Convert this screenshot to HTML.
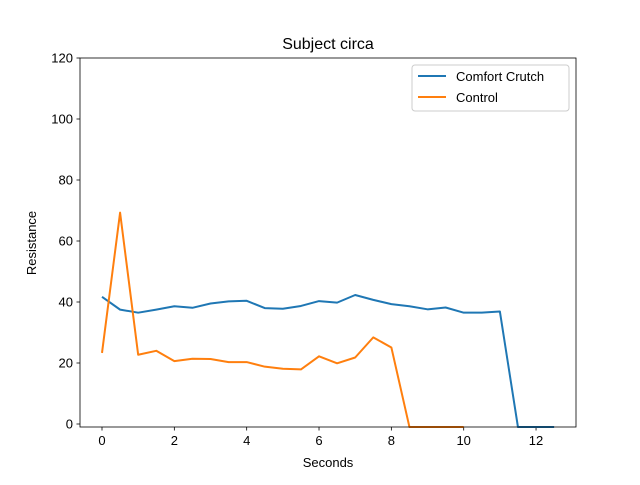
<!DOCTYPE html>
<html><head><meta charset="utf-8">
<style>body{margin:0;background:#fff}svg{font-family:"Liberation Sans","DejaVu Sans",sans-serif}</style>
</head><body>
<svg id="chart" width="640" height="480">
<rect width="640" height="480" fill="#fff"/>
<text x="328" y="49" font-size="16" text-anchor="middle">Subject circa</text>
<g id="axes"></g>
<g id="lines"></g>
<rect x="80" y="58" width="496" height="369" fill="none" stroke="#000" stroke-width="0.8"/>
<text x="328" y="467" font-size="13" text-anchor="middle">Seconds</text>
<text x="36" y="243" font-size="13" text-anchor="middle" transform="rotate(-90 36 243)">Resistance</text>
<g>
<rect x="412" y="65" width="157" height="46" fill="#fff" stroke="#ccc" rx="3"/>
<line x1="418" y1="76" x2="446" y2="76" stroke="#1f77b4" stroke-width="2"/>
<text x="456" y="81" font-size="13">Comfort Crutch</text>
<line x1="418" y1="97" x2="446" y2="97" stroke="#ff7f0e" stroke-width="2"/>
<text x="456" y="102" font-size="13">Control</text>
</g>
</svg>
<script>
const xValues=[0,0.5,1,1.5,2,2.5,3,3.5,4,4.5,5,5.5,6,6.5,7,7.5,8,8.5,9,9.5,10,10.5,11,11.5,12,12.5];
const comfortValues=[41.7,37.5,36.5,37.5,38.6,38.1,39.5,40.2,40.4,38,37.8,38.7,40.3,39.8,42.3,40.7,39.3,38.6,37.6,38.2,36.5,36.5,36.9,-1,-1,-1];
const controlValues=[23.3,69.3,22.7,24,20.6,21.4,21.3,20.3,20.3,18.8,18.1,17.9,22.2,19.9,21.8,28.4,25.1,-1,-1,-1,-1];
const xTicks=[0,2,4,6,8,10,12];
const yTicks=[0,20,40,60,80,100,120];
const sx=v=>102+v*36.17;
const sy=v=>424-v*3.05;
const NS="http://www.w3.org/2000/svg";
const axes=document.getElementById('axes'),lines=document.getElementById('lines');
function mk(t,a,p){const e=document.createElementNS(NS,t);for(const k in a)e.setAttribute(k,a[k]);p.appendChild(e);return e;}
xTicks.forEach(t=>{
 const l=mk('line',{x1:sx(t),x2:sx(t),y1:427,y2:430.5,stroke:'#000','stroke-width':0.8},axes);
 
 
 const tx=mk('text',{x:sx(t),y:445,'font-size':13,'text-anchor':'middle'},axes);tx.textContent=t;
 
 
});
yTicks.forEach(t=>{
 const l=mk('line',{x1:76.5,x2:80,y1:sy(t),y2:sy(t),stroke:'#000','stroke-width':0.8},axes);
 
 
 const tx=mk('text',{x:73,y:sy(t)+4.5,'font-size':13,'text-anchor':'end'},axes);tx.textContent=t;
 
 
});
function series(vals,color,name){
 const pts=vals.map((v,i)=>sx(xValues[i])+','+sy(v)).join(' ');
 const p=mk('polyline',{points:pts,fill:'none',stroke:color,'stroke-width':2,'stroke-linejoin':'round'},lines);
 
 
}
series(comfortValues,'#1f77b4','comfort-crutch-line');
series(controlValues,'#ff7f0e','control-line');
</script>
</body></html>
